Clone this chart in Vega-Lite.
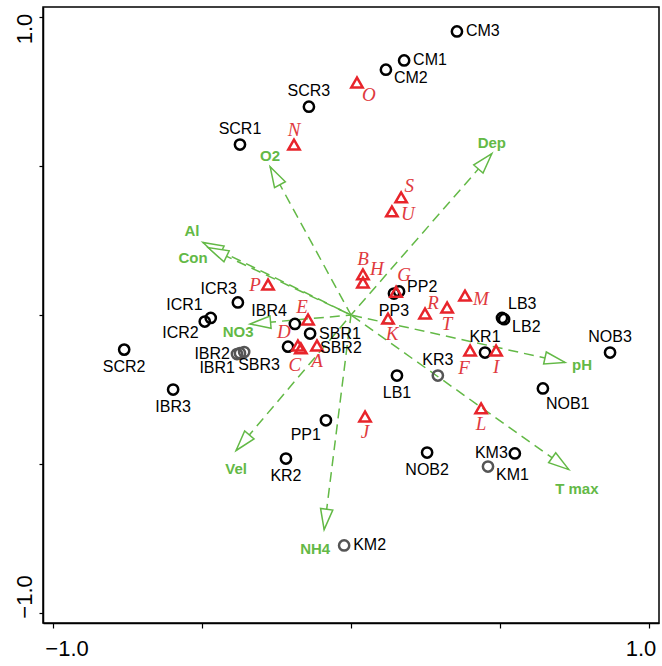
{
  "$schema": "https://vega.github.io/schema/vega-lite/v6.json",
  "width": 616,
  "height": 616,
  "autosize": {"type": "none"},
  "padding": {"left": 43, "top": 7, "right": 3, "bottom": 43},
  "background": "white",
  "config": {"view": {"stroke": "#000", "strokeWidth": 1.5}},
  "datasets": {
    "sites": [
      {"name": "CM3", "x": 0.355, "y": 0.950},
      {"name": "CM1", "x": 0.178, "y": 0.853},
      {"name": "CM2", "x": 0.117, "y": 0.822},
      {"name": "SCR3", "x": -0.141, "y": 0.698},
      {"name": "SCR1", "x": -0.372, "y": 0.571},
      {"name": "ICR3", "x": -0.379, "y": 0.042},
      {"name": "ICR1", "x": -0.470, "y": -0.010},
      {"name": "ICR2", "x": -0.490, "y": -0.022},
      {"name": "IBR4", "x": -0.188, "y": -0.030},
      {"name": "SBR1", "x": -0.137, "y": -0.062},
      {"name": "SBR2", "x": -0.211, "y": -0.106},
      {"name": "IBR2", "x": -0.382, "y": -0.131},
      {"name": "IBR1", "x": -0.372, "y": -0.128},
      {"name": "SBR3", "x": -0.358, "y": -0.124},
      {"name": "SCR2", "x": -0.760, "y": -0.116},
      {"name": "IBR3", "x": -0.596, "y": -0.250},
      {"name": "PP1", "x": -0.084, "y": -0.353},
      {"name": "KR2", "x": -0.218, "y": -0.481},
      {"name": "KM2", "x": -0.023, "y": -0.772},
      {"name": "PP2", "x": 0.161, "y": 0.079},
      {"name": "PP3", "x": 0.144, "y": 0.072},
      {"name": "LB3", "x": 0.506, "y": -0.010},
      {"name": "LB2", "x": 0.513, "y": -0.014},
      {"name": "KR1", "x": 0.449, "y": -0.126},
      {"name": "KR3", "x": 0.291, "y": -0.203},
      {"name": "LB1", "x": 0.154, "y": -0.203},
      {"name": "NOB3", "x": 0.868, "y": -0.126},
      {"name": "NOB1", "x": 0.643, "y": -0.246},
      {"name": "NOB2", "x": 0.255, "y": -0.461},
      {"name": "KM3", "x": 0.549, "y": -0.464},
      {"name": "KM1", "x": 0.459, "y": -0.508}
    ],
    "species": [
      {"name": "O", "x": 0.020, "y": 0.779},
      {"name": "N", "x": -0.191, "y": 0.571},
      {"name": "S", "x": 0.168, "y": 0.394},
      {"name": "U", "x": 0.137, "y": 0.347},
      {"name": "B", "x": 0.040, "y": 0.136},
      {"name": "H", "x": 0.040, "y": 0.109},
      {"name": "G", "x": 0.151, "y": 0.078},
      {"name": "P", "x": -0.278, "y": 0.102},
      {"name": "E", "x": -0.144, "y": -0.015},
      {"name": "D", "x": -0.178, "y": -0.102},
      {"name": "C", "x": -0.168, "y": -0.112},
      {"name": "A", "x": -0.114, "y": -0.102},
      {"name": "K", "x": 0.124, "y": -0.012},
      {"name": "R", "x": 0.248, "y": 0.005},
      {"name": "T", "x": 0.322, "y": 0.025},
      {"name": "M", "x": 0.382, "y": 0.065},
      {"name": "F", "x": 0.399, "y": -0.119},
      {"name": "I", "x": 0.486, "y": -0.119},
      {"name": "L", "x": 0.436, "y": -0.313},
      {"name": "J", "x": 0.047, "y": -0.340}
    ],
    "env": [
      {"name": "O2", "x": -0.271, "y": 0.497},
      {"name": "Dep", "x": 0.472, "y": 0.541},
      {"name": "Al", "x": -0.496, "y": 0.243},
      {"name": "Con", "x": -0.479, "y": 0.226},
      {"name": "NO3", "x": -0.338, "y": -0.030},
      {"name": "Vel", "x": -0.385, "y": -0.454},
      {"name": "NH4", "x": -0.090, "y": -0.719},
      {"name": "pH", "x": 0.717, "y": -0.159},
      {"name": "T max", "x": 0.730, "y": -0.518}
    ]
  },
  "encoding": {
    "x": {
      "field": "x", "type": "quantitative",
      "scale": {"domain": [-1.032, 1.032], "nice": false, "zero": false},
      "axis": {
        "title": null, "grid": false, "values": [-1, -0.5, 0, 0.5, 1],
        "labelExpr": "datum.value == -1 ? '−1.0' : (datum.value == 1 ? '1.0' : '')",
        "labelFont": "Liberation Sans", "labelFontSize": 22, "labelColor": "#000",
        "labelPadding": 10, "labelFlush": false, "labelOverlap": false, "labelBound": false,
        "labelOffset": {"condition": {"test": "datum.value < 0", "value": 14}, "value": -9},
        "tickColor": "#000", "tickSize": 5, "tickWidth": 1.2,
        "domainColor": "#000", "domainWidth": 1.5
      }
    },
    "y": {
      "field": "y", "type": "quantitative",
      "scale": {"domain": [-1.032, 1.032], "nice": false, "zero": false},
      "axis": {
        "title": null, "grid": false, "values": [-1, -0.5, 0, 0.5, 1],
        "labelExpr": "datum.value == -1 ? '−1.0' : (datum.value == 1 ? '1.0' : '')",
        "labelFont": "Liberation Sans", "labelFontSize": 22, "labelColor": "#000",
        "labelAngle": -90, "labelAlign": "center", "labelBaseline": "bottom",
        "labelPadding": 3, "labelFlush": false, "labelOverlap": false, "labelBound": false,
        "labelOffset": {"condition": {"test": "datum.value > 0", "value": 12}, "value": -17},
        "tickColor": "#000", "tickSize": 4, "tickWidth": 1.2,
        "domainColor": "#000", "domainWidth": 1.5
      }
    }
  },
  "layer": [
    {"data": {"values": [{}]}, "mark": {"type": "rule", "stroke": "#999", "strokeDash": [2, 2], "strokeWidth": 1},
     "encoding": {"x": {"datum": 0}, "y": {"datum": -1.032}, "y2": {"datum": 1.032}}},
    {"data": {"values": [{}]}, "mark": {"type": "rule", "stroke": "#999", "strokeDash": [2, 2], "strokeWidth": 1},
     "encoding": {"y": {"datum": 0}, "x": {"datum": -1.032}, "x2": {"datum": 1.032}}},
    {"data": {"name": "env"}, "mark": {"type": "rule", "stroke": "#63b946", "strokeWidth": 1.5, "strokeDash": [10, 6]},
     "encoding": {"x2": {"datum": 0}, "y2": {"datum": 0}}},
    {"data": {"name": "env"},
     "mark": {"type": "point", "shape": "M0,0L-0.6,2L0.6,2Z", "filled": true, "fill": "white", "stroke": "#63b946", "strokeWidth": 1.5, "size": 420, "opacity": 1},
     "encoding": {"angle": {"field": "name", "type": "nominal", "legend": null,
       "scale": {"type": "ordinal", "domain": ["O2", "Dep", "Al", "Con", "NO3", "Vel", "NH4", "pH", "T max"],
                 "range": [331.4, 41.1, 296.1, 295.3, 264.9, 220.3, 187.1, 102.5, 125.4]}}}},
    {"data": {"values": [{}]}, "mark": {"type": "point", "shape": "cross", "filled": true, "color": "#63b946", "size": 30, "opacity": 1},
     "encoding": {"x": {"datum": 0}, "y": {"datum": 0}}},
    {"data": {"name": "sites"},
     "mark": {"type": "point", "shape": "circle", "filled": false, "size": 105, "strokeWidth": 2.5, "opacity": 1},
     "encoding": {"color": {"condition": {"test": "indexof(['IBR1','IBR2','SBR3','KR3','KM2','KM1'], datum.name) >= 0", "value": "#555555"}, "value": "#000000"}}},
    {"data": {"name": "species"},
     "mark": {"type": "point", "shape": "triangle-up", "filled": false, "size": 130, "strokeWidth": 2.5, "color": "#e8242b", "opacity": 1}},

    {"data": {"name": "sites"}, "transform": [{"filter": {"field": "name", "oneOf": ["CM3", "CM1", "SBR1", "KM2"]}}],
     "mark": {"type": "text", "align": "left", "baseline": "middle", "dx": 9, "dy": 0, "font": "Liberation Sans", "fontSize": 16, "fill": "#000"}, "encoding": {"text": {"field": "name"}}},
    {"data": {"name": "sites"}, "transform": [{"filter": {"field": "name", "oneOf": ["CM2", "KM1", "LB2"]}}],
     "mark": {"type": "text", "align": "left", "baseline": "middle", "dx": 8, "dy": 8, "font": "Liberation Sans", "fontSize": 16, "fill": "#000"}, "encoding": {"text": {"field": "name"}}},
    {"data": {"name": "sites"}, "transform": [{"filter": {"field": "name", "oneOf": ["PP2"]}}],
     "mark": {"type": "text", "align": "left", "baseline": "middle", "dx": 8, "dy": -4, "font": "Liberation Sans", "fontSize": 16, "fill": "#000"}, "encoding": {"text": {"field": "name"}}},
    {"data": {"name": "sites"}, "transform": [{"filter": {"field": "name", "oneOf": ["LB3"]}}],
     "mark": {"type": "text", "align": "left", "baseline": "middle", "dx": 6, "dy": -14, "font": "Liberation Sans", "fontSize": 16, "fill": "#000"}, "encoding": {"text": {"field": "name"}}},
    {"data": {"name": "sites"}, "transform": [{"filter": {"field": "name", "oneOf": ["NOB1"]}}],
     "mark": {"type": "text", "align": "left", "baseline": "middle", "dx": 3, "dy": 16, "font": "Liberation Sans", "fontSize": 16, "fill": "#000"}, "encoding": {"text": {"field": "name"}}},
    {"data": {"name": "sites"}, "transform": [{"filter": {"field": "name", "oneOf": ["SBR3"]}}],
     "mark": {"type": "text", "align": "left", "baseline": "middle", "dx": -6, "dy": 13, "font": "Liberation Sans", "fontSize": 16, "fill": "#000"}, "encoding": {"text": {"field": "name"}}},
    {"data": {"name": "sites"}, "transform": [{"filter": {"field": "name", "oneOf": ["SBR2"]}}],
     "mark": {"type": "text", "align": "left", "baseline": "middle", "dx": 32, "dy": 1, "font": "Liberation Sans", "fontSize": 16, "fill": "#000"}, "encoding": {"text": {"field": "name"}}},
    {"data": {"name": "sites"}, "transform": [{"filter": {"field": "name", "oneOf": ["SCR3", "SCR1", "KR1", "KR3", "NOB3"]}}],
     "mark": {"type": "text", "align": "center", "baseline": "middle", "dx": 0, "dy": -16, "font": "Liberation Sans", "fontSize": 16, "fill": "#000"}, "encoding": {"text": {"field": "name"}}},
    {"data": {"name": "sites"}, "transform": [{"filter": {"field": "name", "oneOf": ["SCR2", "IBR3", "KR2", "LB1", "NOB2", "PP3"]}}],
     "mark": {"type": "text", "align": "center", "baseline": "middle", "dx": 0, "dy": 17, "font": "Liberation Sans", "fontSize": 16, "fill": "#000"}, "encoding": {"text": {"field": "name"}}},
    {"data": {"name": "sites"}, "transform": [{"filter": {"field": "name", "oneOf": ["ICR1", "IBR4"]}}],
     "mark": {"type": "text", "align": "right", "baseline": "middle", "dx": -8, "dy": -13, "font": "Liberation Sans", "fontSize": 16, "fill": "#000"}, "encoding": {"text": {"field": "name"}}},
    {"data": {"name": "sites"}, "transform": [{"filter": {"field": "name", "oneOf": ["ICR3"]}}],
     "mark": {"type": "text", "align": "right", "baseline": "middle", "dx": -1, "dy": -13, "font": "Liberation Sans", "fontSize": 16, "fill": "#000"}, "encoding": {"text": {"field": "name"}}},
    {"data": {"name": "sites"}, "transform": [{"filter": {"field": "name", "oneOf": ["ICR2"]}}],
     "mark": {"type": "text", "align": "right", "baseline": "middle", "dx": -6, "dy": 11, "font": "Liberation Sans", "fontSize": 16, "fill": "#000"}, "encoding": {"text": {"field": "name"}}},
    {"data": {"name": "sites"}, "transform": [{"filter": {"field": "name", "oneOf": ["IBR1", "PP1"]}}],
     "mark": {"type": "text", "align": "right", "baseline": "middle", "dx": -5, "dy": 15, "font": "Liberation Sans", "fontSize": 16, "fill": "#000"}, "encoding": {"text": {"field": "name"}}},
    {"data": {"name": "sites"}, "transform": [{"filter": {"field": "name", "oneOf": ["IBR2", "KM3"]}}],
     "mark": {"type": "text", "align": "right", "baseline": "middle", "dx": -7, "dy": 0, "font": "Liberation Sans", "fontSize": 16, "fill": "#000"}, "encoding": {"text": {"field": "name"}}},

    {"data": {"name": "species"}, "transform": [{"filter": {"field": "name", "oneOf": ["N", "B"]}}],
     "mark": {"type": "text", "align": "center", "baseline": "middle", "dx": 0, "dy": -15, "font": "Liberation Serif", "fontStyle": "italic", "fontSize": 19, "fill": "#e03a3e"}, "encoding": {"text": {"field": "name"}}},
    {"data": {"name": "species"}, "transform": [{"filter": {"field": "name", "oneOf": ["A", "T", "L", "J", "I"]}}],
     "mark": {"type": "text", "align": "center", "baseline": "middle", "dx": 0, "dy": 16, "font": "Liberation Serif", "fontStyle": "italic", "fontSize": 19, "fill": "#e03a3e"}, "encoding": {"text": {"field": "name"}}},
    {"data": {"name": "species"}, "transform": [{"filter": {"field": "name", "oneOf": ["K"]}}],
     "mark": {"type": "text", "align": "center", "baseline": "middle", "dx": 4, "dy": 15, "font": "Liberation Serif", "fontStyle": "italic", "fontSize": 19, "fill": "#e03a3e"}, "encoding": {"text": {"field": "name"}}},
    {"data": {"name": "species"}, "transform": [{"filter": {"field": "name", "oneOf": ["C", "F"]}}],
     "mark": {"type": "text", "align": "center", "baseline": "middle", "dx": -6, "dy": 17, "font": "Liberation Serif", "fontStyle": "italic", "fontSize": 19, "fill": "#e03a3e"}, "encoding": {"text": {"field": "name"}}},
    {"data": {"name": "species"}, "transform": [{"filter": {"field": "name", "oneOf": ["O"]}}],
     "mark": {"type": "text", "align": "center", "baseline": "middle", "dx": 12, "dy": 12, "font": "Liberation Serif", "fontStyle": "italic", "fontSize": 19, "fill": "#e03a3e"}, "encoding": {"text": {"field": "name"}}},
    {"data": {"name": "species"}, "transform": [{"filter": {"field": "name", "oneOf": ["S", "R"]}}],
     "mark": {"type": "text", "align": "center", "baseline": "middle", "dx": 8, "dy": -11, "font": "Liberation Serif", "fontStyle": "italic", "fontSize": 19, "fill": "#e03a3e"}, "encoding": {"text": {"field": "name"}}},
    {"data": {"name": "species"}, "transform": [{"filter": {"field": "name", "oneOf": ["H"]}}],
     "mark": {"type": "text", "align": "center", "baseline": "middle", "dx": 14, "dy": -13, "font": "Liberation Serif", "fontStyle": "italic", "fontSize": 19, "fill": "#e03a3e"}, "encoding": {"text": {"field": "name"}}},
    {"data": {"name": "species"}, "transform": [{"filter": {"field": "name", "oneOf": ["G"]}}],
     "mark": {"type": "text", "align": "center", "baseline": "middle", "dx": 8, "dy": -17, "font": "Liberation Serif", "fontStyle": "italic", "fontSize": 19, "fill": "#e03a3e"}, "encoding": {"text": {"field": "name"}}},
    {"data": {"name": "species"}, "transform": [{"filter": {"field": "name", "oneOf": ["U", "M"]}}],
     "mark": {"type": "text", "align": "center", "baseline": "middle", "dx": 16, "dy": 3, "font": "Liberation Serif", "fontStyle": "italic", "fontSize": 19, "fill": "#e03a3e"}, "encoding": {"text": {"field": "name"}}},
    {"data": {"name": "species"}, "transform": [{"filter": {"field": "name", "oneOf": ["P"]}}],
     "mark": {"type": "text", "align": "center", "baseline": "middle", "dx": -13, "dy": 0, "font": "Liberation Serif", "fontStyle": "italic", "fontSize": 19, "fill": "#e03a3e"}, "encoding": {"text": {"field": "name"}}},
    {"data": {"name": "species"}, "transform": [{"filter": {"field": "name", "oneOf": ["E"]}}],
     "mark": {"type": "text", "align": "center", "baseline": "middle", "dx": -6, "dy": -12, "font": "Liberation Serif", "fontStyle": "italic", "fontSize": 19, "fill": "#e03a3e"}, "encoding": {"text": {"field": "name"}}},
    {"data": {"name": "species"}, "transform": [{"filter": {"field": "name", "oneOf": ["D"]}}],
     "mark": {"type": "text", "align": "center", "baseline": "middle", "dx": -14, "dy": -13, "font": "Liberation Serif", "fontStyle": "italic", "fontSize": 19, "fill": "#e03a3e"}, "encoding": {"text": {"field": "name"}}},

    {"data": {"name": "env"}, "transform": [{"filter": {"field": "name", "oneOf": ["O2", "Dep"]}}],
     "mark": {"type": "text", "align": "center", "baseline": "middle", "dx": 0, "dy": -11, "font": "Liberation Sans", "fontWeight": "bold", "fontSize": 15, "fill": "#63b946"}, "encoding": {"text": {"field": "name"}}},
    {"data": {"name": "env"}, "transform": [{"filter": {"field": "name", "oneOf": ["Al"]}}],
     "mark": {"type": "text", "align": "center", "baseline": "middle", "dx": -11, "dy": -11, "font": "Liberation Sans", "fontWeight": "bold", "fontSize": 15, "fill": "#63b946"}, "encoding": {"text": {"field": "name"}}},
    {"data": {"name": "env"}, "transform": [{"filter": {"field": "name", "oneOf": ["Con"]}}],
     "mark": {"type": "text", "align": "center", "baseline": "middle", "dx": -15, "dy": 10, "font": "Liberation Sans", "fontWeight": "bold", "fontSize": 15, "fill": "#63b946"}, "encoding": {"text": {"field": "name"}}},
    {"data": {"name": "env"}, "transform": [{"filter": {"field": "name", "oneOf": ["NO3"]}}],
     "mark": {"type": "text", "align": "center", "baseline": "middle", "dx": -12, "dy": 8, "font": "Liberation Sans", "fontWeight": "bold", "fontSize": 15, "fill": "#63b946"}, "encoding": {"text": {"field": "name"}}},
    {"data": {"name": "env"}, "transform": [{"filter": {"field": "name", "oneOf": ["Vel"]}}],
     "mark": {"type": "text", "align": "center", "baseline": "middle", "dx": 0, "dy": 19, "font": "Liberation Sans", "fontWeight": "bold", "fontSize": 15, "fill": "#63b946"}, "encoding": {"text": {"field": "name"}}},
    {"data": {"name": "env"}, "transform": [{"filter": {"field": "name", "oneOf": ["NH4"]}}],
     "mark": {"type": "text", "align": "center", "baseline": "middle", "dx": -9, "dy": 19, "font": "Liberation Sans", "fontWeight": "bold", "fontSize": 15, "fill": "#63b946"}, "encoding": {"text": {"field": "name"}}},
    {"data": {"name": "env"}, "transform": [{"filter": {"field": "name", "oneOf": ["pH"]}}],
     "mark": {"type": "text", "align": "left", "baseline": "middle", "dx": 7, "dy": 3, "font": "Liberation Sans", "fontWeight": "bold", "fontSize": 15, "fill": "#63b946"}, "encoding": {"text": {"field": "name"}}},
    {"data": {"name": "env"}, "transform": [{"filter": {"field": "name", "oneOf": ["T max"]}}],
     "mark": {"type": "text", "align": "center", "baseline": "middle", "dx": 8, "dy": 19, "font": "Liberation Sans", "fontWeight": "bold", "fontSize": 15, "fill": "#63b946"}, "encoding": {"text": {"field": "name"}}}
  ]
}
